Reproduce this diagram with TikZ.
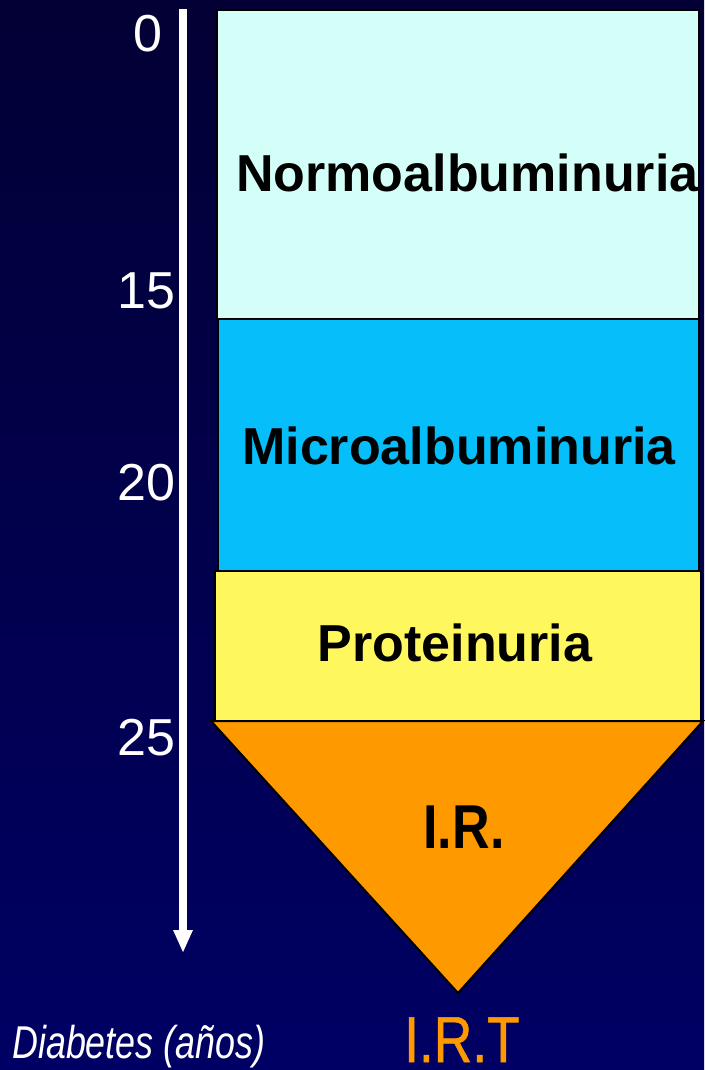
\documentclass[tikz,border=0pt]{standalone}
\usepackage{fontspec}
\setmainfont{Liberation Sans}
\newfontfamily\narrowbold[FakeStretch=0.84]{Liberation Sans Bold}
\newfontfamily\narrowmed[FakeStretch=0.82,FakeBold=0.8]{Liberation Sans}
\newfontfamily\narrowital[FakeStretch=0.78]{Liberation Sans Italic}
\usetikzlibrary{arrows.meta}
\definecolor{bgtop}{RGB}{2,0,52}
\definecolor{bgbot}{RGB}{0,0,100}
\definecolor{normocol}{RGB}{212,255,248}
\definecolor{microcol}{RGB}{5,190,250}
\definecolor{protcol}{RGB}{255,247,94}
\definecolor{orangecol}{RGB}{255,153,0}
\begin{document}
\begin{tikzpicture}[x=1pt,y=-1pt,
  stagebox/.style={draw=black,line width=2pt,inner sep=0pt,anchor=north west},
  stagelabel/.style={font=\fontsize{52}{52}\selectfont\bfseries,text=black,inner sep=0pt,anchor=base},
  yearlabel/.style={font=\fontsize{52}{52}\selectfont,text=white,inner sep=0pt,anchor=base east}]
\useasboundingbox (0,0) rectangle (704,1070);
\shade[top color=bgtop,bottom color=bgbot] (0,0) rectangle (704,1070);
% boxes
\node[stagebox,fill=normocol,minimum width=482pt,minimum height=309pt] (normo) at (216,9) {};
\node[stagebox,fill=microcol,minimum width=481pt,minimum height=252pt] (micro) at (217,318) {};
\node[stagebox,fill=protcol,minimum width=486pt,minimum height=151pt] (prot) at (214,570) {};
\coordinate (tl) at (211,721);
\coordinate (tr) at (703,721);
\coordinate (tb) at (458,993);
\draw[fill=orangecol,line width=2pt,line join=miter] (tl) -- (tr) -- (tb) -- cycle;
% labels
\node[stagelabel,anchor=base west] (normot) at (236,191) {Normoalbuminuria};
\node[stagelabel] (microt) at (459,464) {Microalbuminuria};
\node[stagelabel] (prott) at (455,661) {Proteinuria};
\node[font=\narrowbold\fontsize{62}{62}\selectfont,text=black,inner sep=0pt,anchor=base] (ir) at (464,848) {I.R.};
\node[font=\narrowmed\fontsize{65}{65}\selectfont,text=orangecol,inner sep=0pt,text depth=0pt,anchor=base west] (irt) at (404,1062) {I.R.T};
\node[font=\narrowital\fontsize{46}{46}\selectfont,text=white,inner sep=0pt,anchor=base west] (diab) at (12,1058) {Diabetes (años)};
% timeline
\coordinate (atop) at (183,9);
\coordinate (abot) at (183,953);
\draw[white,line width=8pt,-{Triangle[width=18pt,length=23pt]}] (atop) -- (abot);
\node[yearlabel] (y0) at (163,52) {0};
\node[yearlabel] (y15) at (176,308) {15};
\node[yearlabel] (y20) at (176,500) {20};
\node[yearlabel] (y25) at (176,755) {25};
\end{tikzpicture}
\end{document}
